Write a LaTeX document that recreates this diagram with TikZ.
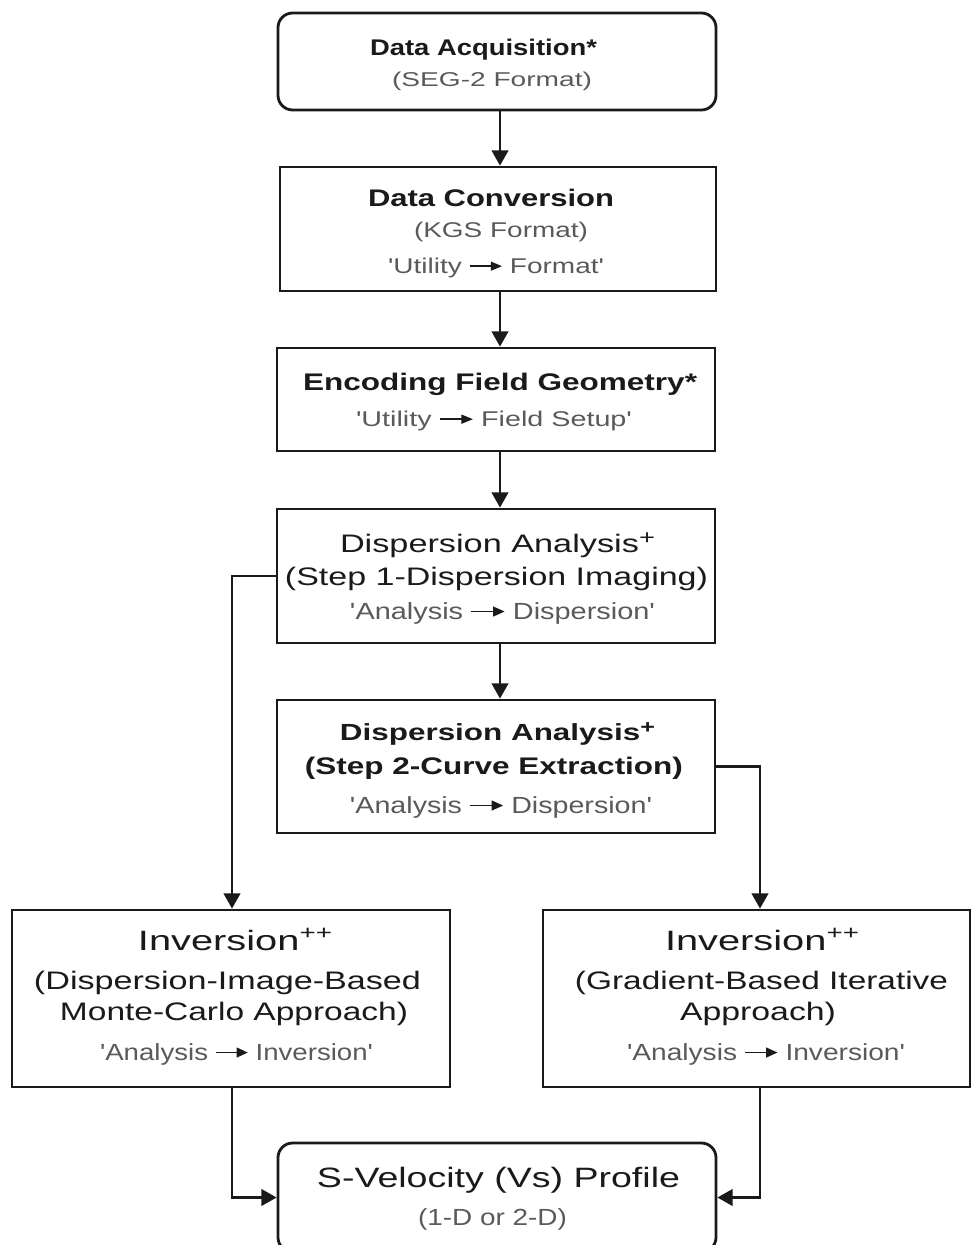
\documentclass[tikz,border=0pt]{standalone}
\usepackage{fontspec}
\setmainfont{Liberation Sans}
\usepackage{graphicx}
\usetikzlibrary{arrows.meta}
\definecolor{ink}{HTML}{1A1A1A}
\definecolor{sub}{HTML}{5A5A5A}
\newcommand{\fitl}[3]{\resizebox{#1pt}{\height}{\fontsize{#2}{#2}\selectfont #3}}
\newcommand{\garr}{\hspace{0.25em}\tikz[baseline=-0.32em]\draw[ink,line width=0.07em,-{Triangle[width=0.42em,length=0.4em]}] (0,0) -- (1.15em,0);\hspace{0.25em}}
\newcommand{\rplus}{\raisebox{0.3em}{\scalebox{0.8}{+}}}
\newcommand{\q}{\textquotesingle}
\begin{document}
\begin{tikzpicture}[x=0.75pt,y=-0.75pt,
  box/.style={draw=ink, line width=2.1pt, fill=white, inner sep=0pt},
  rbox/.style={box, rounded corners=11pt},
  tl/.style={anchor=base, inner sep=0pt, text=ink},
  sl/.style={anchor=base, inner sep=0pt, text=sub},
  arr/.style={draw=ink, line width=1.8pt, -{Triangle[width=12.5pt,length=11.5pt]}}]
\useasboundingbox (0,0) rectangle (971,1245);
% boxes
\node[rbox, minimum width=328.5pt, minimum height=72.75pt] (b1) at (497,61.5) {};
\node[box, minimum width=327pt, minimum height=93pt] (b2) at (498,229) {};
\node[box, minimum width=328.5pt, minimum height=77.25pt] (b3) at (496,399.5) {};
\node[box, minimum width=328.5pt, minimum height=100.5pt] (b4) at (496,576) {};
\node[box, minimum width=328.5pt, minimum height=99.75pt] (b5) at (496,766.5) {};
\node[box, minimum width=328.5pt, minimum height=132.75pt] (b6) at (231,998.5) {};
\node[box, minimum width=320.25pt, minimum height=132.75pt] (b7) at (756.5,998.5) {};
\node[rbox, minimum width=328.5pt, minimum height=81.75pt] (b8) at (497,1197.5) {};
% texts
\node[tl] (b1a) at (483.5,56) {\fitl{170.25}{17}{\bfseries Data Acquisition*}};
\node[sl] (b1b) at (492,87) {\fitl{150}{15}{(SEG-2 Format)}};
\node[tl] (b2a) at (491,206) {\fitl{184.5}{18}{\bfseries Data Conversion}};
\node[sl] (b2b) at (501,237) {\fitl{130.5}{16}{(KGS Format)}};
\node[sl] (b2c) at (496,273) {\fitl{162}{16}{\q Utility\garr Format\q}};
\node[tl] (b3a) at (500,390) {\fitl{295.5}{18}{\bfseries Encoding Field Geometry*}};
\node[sl] (b3b) at (494,426) {\fitl{207}{16}{\q Utility\garr Field Setup\q}};
\node[tl] (b4a) at (497.5,552) {\fitl{236.25}{19}{Dispersion Analysis\rplus}};
\node[tl] (b4b) at (496.5,585) {\fitl{317.25}{19}{(Step 1-Dispersion Imaging)}};
\node[sl] (b4c) at (502.5,619) {\fitl{228.75}{17.5}{\q Analysis\garr Dispersion\q}};
\node[tl] (b5a) at (497.5,740) {\fitl{236.25}{17.5}{\bfseries Dispersion Analysis\rplus}};
\node[tl] (b5b) at (494,774) {\fitl{283.5}{18}{\bfseries (Step 2-Curve Extraction)}};
\node[sl] (b5c) at (501,813) {\fitl{226.5}{17.5}{\q Analysis\garr Dispersion\q}};
\node[tl] (b6a) at (235.5,950) {\fitl{146.25}{21}{Inversion\textsuperscript{++}}};
\node[tl] (b6b) at (227.5,989) {\fitl{290.25}{19}{(Dispersion-Image-Based}};
\node[tl] (b6c) at (234,1020) {\fitl{261}{19}{Monte-Carlo Approach)}};
\node[sl] (b6d) at (236.5,1060) {\fitl{204.75}{17.5}{\q Analysis\garr Inversion\q}};
\node[tl] (b7a) at (762.5,950) {\fitl{146.25}{21}{Inversion\textsuperscript{++}}};
\node[tl] (b7b) at (761.5,989) {\fitl{279.75}{19}{(Gradient-Based Iterative}};
\node[tl] (b7c) at (758,1020) {\fitl{117}{19}{Approach)}};
\node[sl] (b7d) at (766,1060) {\fitl{208.5}{17.5}{\q Analysis\garr Inversion\q}};
\node[tl] (b8a) at (498.5,1187) {\fitl{272.25}{21}{S-Velocity (Vs) Profile}};
\node[sl] (b8b) at (492.5,1225) {\fitl{111.75}{17.5}{(1-D or 2-D)}};
% connectors
\coordinate (ax) at (500,0);
\coordinate (rx) at (760,0);
\coordinate (lx) at (232,0);
\draw[arr] (b1.south -| ax) -- (b2.north -| ax);
\draw[arr] (b2.south -| ax) -- (b3.north -| ax);
\draw[arr] (b3.south -| ax) -- (b4.north -| ax);
\draw[arr] (b4.south -| ax) -- (b5.north -| ax);
\draw[arr] (b4.west) -| (b6.north -| lx);
\draw[arr] (b5.east) -| (b7.north -| rx);
\draw[arr] (b6.south -| lx) |- (b8.west);
\draw[arr] (b7.south -| rx) |- (b8.east);
\end{tikzpicture}
\end{document}
